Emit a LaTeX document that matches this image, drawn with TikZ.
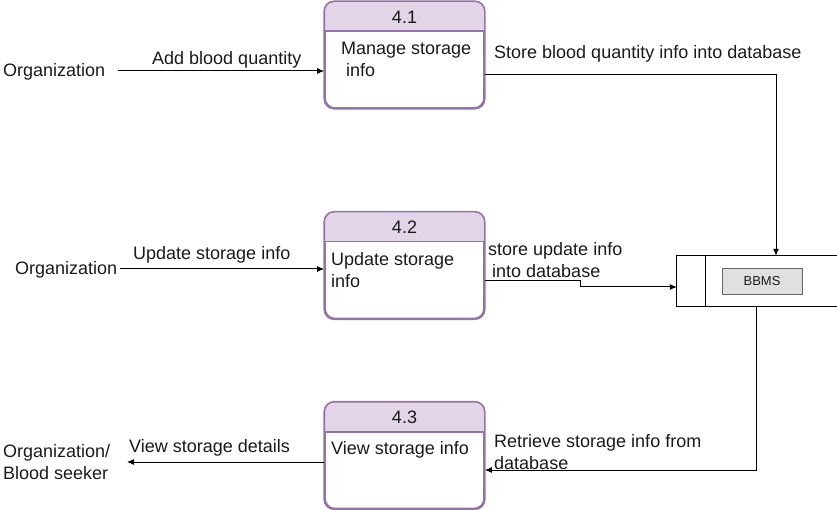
\documentclass[tikz,border=0pt]{standalone}
\usepackage{fontspec}
\setmainfont{Liberation Sans}
\usetikzlibrary{arrows.meta,calc}
\definecolor{pborder}{HTML}{9673A6}
\definecolor{pfill}{HTML}{E1D5E7}
\definecolor{txt}{HTML}{1A1A1A}
\begin{document}
\begin{tikzpicture}[x=1pt,y=-1pt,
  every node/.style={font=\fontsize{18}{22.5}\selectfont, text=txt},
  procbox/.style={draw=pborder, line width=1.6pt, rounded corners=10pt, minimum width=159pt, minimum height=106pt, inner sep=0pt},
  lbl/.style={anchor=west, inner sep=0pt, align=left},
  arr/.style={draw=black, line width=1pt, -{Latex[length=7pt,width=6pt]}}
]
\useasboundingbox (0,0) rectangle (837,510);

% processes
\node[procbox] (p1) at (404.5,55) {};
\node[procbox] (p2) at (404.5,265.5) {};
\node[procbox] (p3) at (404.5,455.5) {};
\foreach \p/\n in {p1/4.1,p2/4.2,p3/4.3}{
  \begin{scope}
    \clip[rounded corners=10pt] (\p.north west) rectangle (\p.south east);
    \fill[pfill] (\p.north west) rectangle ($(\p.north east)+(0,30)$);
  \end{scope}
  \draw[pborder, line width=1.6pt] ($(\p.north west)+(0,30)$) -- ($(\p.north east)+(0,30)$);
  \draw[pborder, line width=1.6pt, rounded corners=10pt] (\p.north west) rectangle (\p.south east);
  \node (\p h) at ($(\p.north)+(0,16)$) {\n};
}
\node[lbl] (p1t) at (341,59.5) {Manage storage\\\hspace{5pt}info};
\node[lbl] (p2t) at (331,270) {Update storage\\info};
\node[lbl] (p3t) at (331,450) {View storage info};

% data store
\node[minimum width=160pt, minimum height=50pt, inner sep=0pt] (ds) at (757,281) {};
\draw[line width=1pt] (ds.north east) -- (ds.north west) -- (ds.south west) -- (ds.south east);
\draw[line width=1pt] ($(ds.north west)+(29,0)$) -- ($(ds.south west)+(29,0)$);
\node[draw=black!60, fill=black!12, minimum width=80pt, minimum height=26pt, inner sep=0pt, font=\fontsize{13}{15}\selectfont] (bbms) at (762,281) {BBMS};

% external entities
\node[lbl] (org1) at (3,72) {Organization};
\node[lbl] (org2) at (15,270) {Organization};
\node[lbl] (org3) at (3,462) {Organization/\\Blood seeker};

% flow labels
\node[lbl] (l1) at (152,60) {Add blood quantity};
\node[lbl] (l2) at (494,54) {Store blood quantity info into database};
\node[lbl] (l3) at (133,255) {Update storage info};
\node[lbl] (l4) at (488,260) {store update info\\\hspace{4pt}into database};
\node[lbl] (l5) at (494,452) {Retrieve storage info from\\database};
\node[lbl] (l6) at (129,448) {View storage details};

% connectors
\coordinate (c1) at (118,71);
\draw[arr] (c1) -- (c1 -| p1.west);
\draw[arr] ($(p1.east)+(0,20)$) -| ($(ds.north)+(19,0)$);
\coordinate (c2) at (120,269);
\draw[arr] (c2) -- (c2 -| p2.west);
\draw[arr] ($(p2.east)+(0,15.5)$) -- (580,281) -- (580,287) -- ($(ds.west)+(0,6)$);
\draw[arr] ($(ds.south)+(-1,0)$) |- ($(p3.east)+(0,14.5)$);
\coordinate (c3) at (127,462);
\draw[arr] ($(p3.west)+(0,6.5)$) -- (c3);
\end{tikzpicture}
\end{document}
